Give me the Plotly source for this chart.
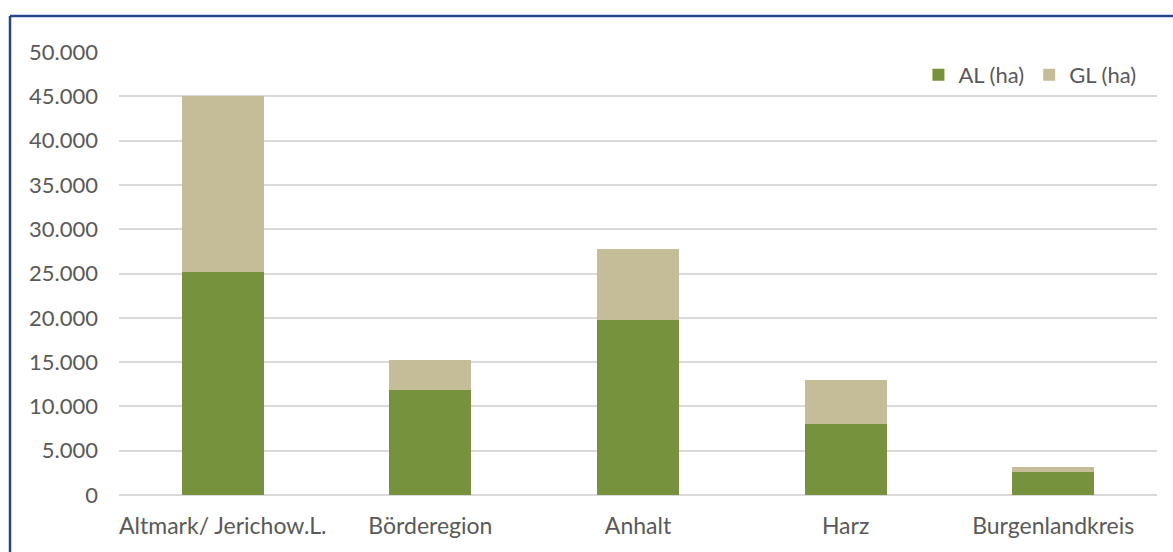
import plotly.graph_objects as go

categories = ["Altmark/ Jerichow.L.", "Börderegion", "Anhalt", "Harz", "Burgenlandkreis"]
al_ha = [25200, 11850, 19750, 8000, 2570]
gl_ha = [19800, 3400, 8000, 4980, 580]
y_ticks = [0, 5000, 10000, 15000, 20000, 25000, 30000, 35000, 40000, 45000, 50000]
y_tick_labels = ["0", "5.000", "10.000", "15.000", "20.000", "25.000", "30.000",
                 "35.000", "40.000", "45.000", "50.000"]

W, H = 1173, 552
L, R, T, B = 119, 16, 52, 57
pw, ph = W - L - R, H - T - B

fig = go.Figure()
fig.add_trace(go.Bar(x=categories, y=al_ha, name="AL (ha)", marker_color="#76923C",
                     marker_line_width=0))
fig.add_trace(go.Bar(x=categories, y=gl_ha, name="GL (ha)", marker_color="#C4BD97",
                     marker_line_width=0))

font = "Lato, 'Open Sans', sans-serif"
fig.update_layout(
    width=W, height=H,
    margin=dict(l=L, r=R, t=T, b=B),
    barmode="stack", bargap=0.605,
    paper_bgcolor="white", plot_bgcolor="white",
    font=dict(family=font, size=22, color="#595959"),
    showlegend=True,
    legend=dict(orientation="h", x=0.985, xanchor="right", y=0.948, yanchor="middle",
                font=dict(size=22, color="#595959"), bgcolor="rgba(0,0,0,0)",
                itemwidth=30, traceorder="normal", tracegroupgap=0),
    xaxis=dict(showgrid=False, showline=False, ticks="", ticklabelstandoff=15,
               tickfont=dict(size=23, color="#595959"), fixedrange=True),
    yaxis=dict(range=[0, 50000], tickvals=y_ticks, ticktext=y_tick_labels,
               showgrid=True, gridcolor="#D9D9D9", gridwidth=2,
               zeroline=True, zerolinecolor="#D9D9D9", zerolinewidth=2,
               showline=False, ticks="", ticklabelstandoff=20,
               tickfont=dict(size=22, color="#595959"), fixedrange=True),
)

# outer frame (top and left edges visible)
x_left = (10 - L) / pw
y_top = (H - B - 16) / ph
frame = "#24468C"
fig.add_shape(type="line", xref="paper", yref="paper", x0=x_left, x1=(W - L + 5) / pw,
              y0=y_top, y1=y_top, line=dict(color=frame, width=2.5))
fig.add_shape(type="line", xref="paper", yref="paper", x0=x_left, x1=x_left,
              y0=y_top, y1=-(B + 5) / ph, line=dict(color=frame, width=2.5))

fig.write_html("out.html", config={"displayModeBar": False},
               post_script="document.body.style.margin='0';document.body.style.overflow='hidden';")
